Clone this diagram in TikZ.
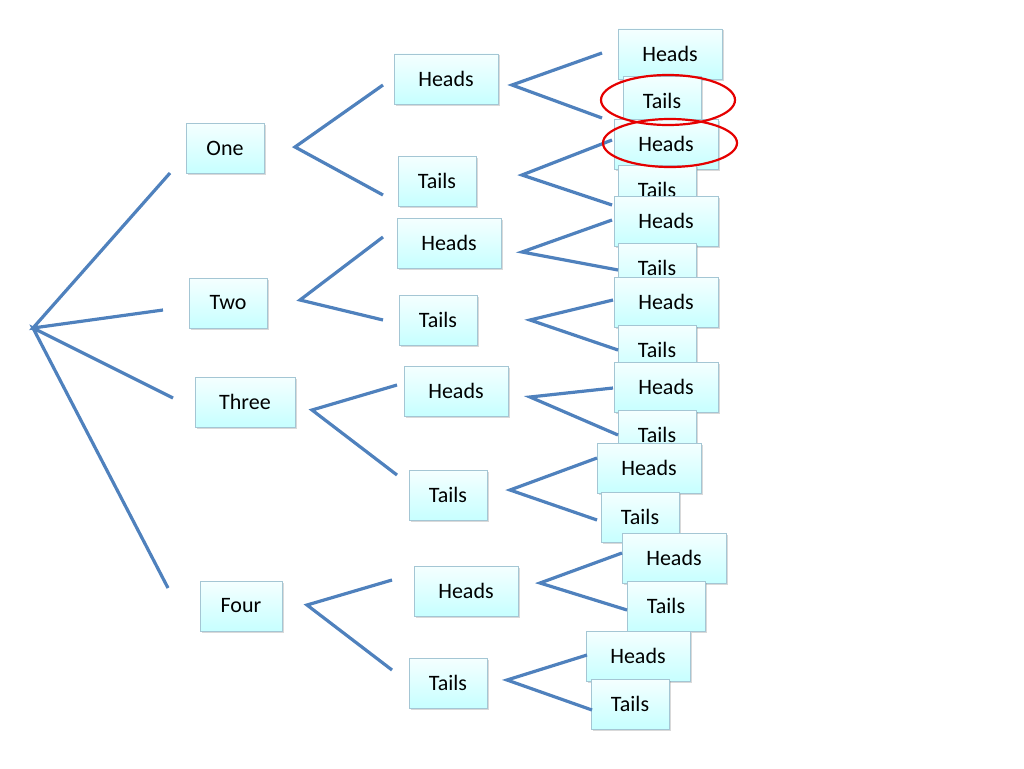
\documentclass[tikz,border=0pt]{standalone}
\usepackage{fontspec}
\setmainfont{Carlito}
\usetikzlibrary{shadows}
\definecolor{ln}{HTML}{4F81BD}
\begin{document}
\begin{tikzpicture}[x=1pt,y=-1pt,
 bx/.style={draw=cyan!40!gray!60,line width=0.6pt,top color=cyan!4,bottom color=cyan!22,minimum height=50pt,font=\fontsize{22}{24}\selectfont,inner sep=0pt,drop shadow={shadow xshift=1.5pt,shadow yshift=-1.5pt,opacity=0.3}},
 hb/.style={bx,minimum width=104pt},
 tb/.style={bx,minimum width=78pt},
 ln/.style={draw=ln,line width=3.2pt},
 ov/.style={draw=red!90!black,line width=2.2pt}]
\useasboundingbox (0,0) rectangle (1024,768);
\node[tb] (one) at (225,148) {One};
\node[tb] (two) at (228,303) {Two};
\node[bx,minimum width=100pt] (three) at (245,402) {Three};
\node[bx,minimum width=82pt] (four) at (241,606) {Four};
\node[hb] (h1) at (446,79) {Heads};
\node[tb] (t1) at (437,181) {Tails};
\node[hb] (h2) at (449,243) {Heads};
\node[tb] (t2) at (438,320) {Tails};
\node[hb] (h3) at (456,391) {Heads};
\node[tb] (t3) at (448,495) {Tails};
\node[hb] (h4) at (466,591) {Heads};
\node[tb] (t4) at (448,683) {Tails};
\node[hb] (a1) at (670,54) {Heads};
\node[tb] (a2) at (662,101) {Tails};
\node[hb] (a3) at (666,144) {Heads};
\node[tb] (a4) at (657,190) {Tails};
\node[hb] (a5) at (666,221) {Heads};
\node[tb] (a6) at (657,268) {Tails};
\node[hb] (a7) at (666,302) {Heads};
\node[tb] (a8) at (657,350) {Tails};
\node[hb] (a9) at (666,387) {Heads};
\node[tb] (a10) at (657,435) {Tails};
\node[hb] (a11) at (649,468) {Heads};
\node[tb] (a12) at (640,517) {Tails};
\node[hb] (a13) at (674,558) {Heads};
\node[tb] (a14) at (666,606) {Tails};
\node[hb] (a15) at (638,656) {Heads};
\node[tb] (a16) at (630,704) {Tails};
% connectors
\coordinate (r) at (33,328);
\draw[ln] (170,173) -- (r) -- (163,310);
\draw[ln] (173,398) -- (r) -- (168,588);
\draw[ln] (383,85) -- (295,147) -- (383,195);
\draw[ln] (383,237) -- (300,300) -- (383,320);
\draw[ln] (397,385) -- (312,410) -- (397,475);
\draw[ln] (392,580) -- (307,605) -- (392,670);
\draw[ln] (602,53) -- (512,85) -- (602,118);
\draw[ln] (612,140) -- (522,175) -- (612,205);
\draw[ln] (612,220) -- (522,252) -- (618,270);
\draw[ln] (613,300) -- (530,320) -- (618,350);
\draw[ln] (613,388) -- (530,397) -- (618,435);
\draw[ln] (597,458) -- (510,490) -- (597,520);
\draw[ln] (622,553) -- (540,583) -- (627,610);
\draw[ln] (587,655) -- (507,680) -- (592,710);
\draw[ov] (668,100) ellipse [x radius=67,y radius=25];
\draw[ov] (670,143) ellipse [x radius=67,y radius=24];
\end{tikzpicture}
\end{document}
